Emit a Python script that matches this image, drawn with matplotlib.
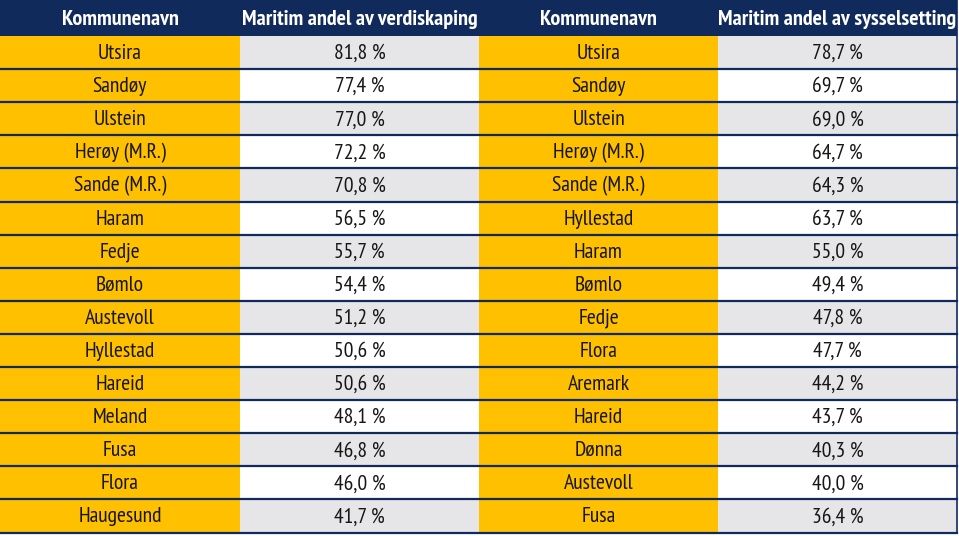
import matplotlib
matplotlib.use('Agg')
import matplotlib.pyplot as plt
from matplotlib.patches import Rectangle

plt.rcParams['font.family'] = ['PT Sans Narrow', 'DejaVu Sans']

# data
headers = ['Kommunenavn', 'Maritim andel av verdiskaping',
           'Kommunenavn', 'Maritim andel av sysselsetting']
kommuner_verdi = ['Utsira', 'Sandøy', 'Ulstein', 'Herøy (M.R.)', 'Sande (M.R.)',
                  'Haram', 'Fedje', 'Bømlo', 'Austevoll', 'Hyllestad',
                  'Hareid', 'Meland', 'Fusa', 'Flora', 'Haugesund']
andel_verdi = [81.8, 77.4, 77.0, 72.2, 70.8, 56.5, 55.7, 54.4, 51.2, 50.6,
               50.6, 48.1, 46.8, 46.0, 41.7]
kommuner_syss = ['Utsira', 'Sandøy', 'Ulstein', 'Herøy (M.R.)', 'Sande (M.R.)',
                 'Hyllestad', 'Haram', 'Bømlo', 'Fedje', 'Flora',
                 'Aremark', 'Hareid', 'Dønna', 'Austevoll', 'Fusa']
andel_syss = [78.7, 69.7, 69.0, 64.7, 64.3, 63.7, 55.0, 49.4, 47.8, 47.7,
              44.2, 43.7, 40.3, 40.0, 36.4]

navy = '#102a5c'
orange = '#ffc000'
grey = '#e6e6e8'

fig = plt.figure(figsize=(9.59, 5.36), dpi=100)
ax = fig.add_axes([0, 0, 1, 1])
ax.set_xlim(0, 959)
ax.set_ylim(536, 0)
ax.axis('off')

col_x = [0, 240, 479, 718, 957]
head_h = 36
row_h = 33.1

def fmt(v):
    return f'{v:.1f}'.replace('.', ',') + ' %'

# header
ax.add_patch(Rectangle((0, 0), 957, head_h, color=navy, lw=0))
for j, h in enumerate(headers):
    ax.text((col_x[j] + col_x[j + 1]) / 2, head_h / 2 + 1.5, h, color='white',
            fontsize=15.8, fontweight='bold', ha='center', va='center')

columns = [kommuner_verdi, [fmt(v) for v in andel_verdi],
           kommuner_syss, [fmt(v) for v in andel_syss]]

for i in range(len(kommuner_verdi)):
    y0 = head_h + i * row_h
    for j in range(4):
        if j % 2 == 0:
            fc = orange
        else:
            fc = grey if i % 2 == 0 else 'white'
        ax.add_patch(Rectangle((col_x[j], y0), col_x[j + 1] - col_x[j], row_h,
                               color=fc, lw=0))
        ax.text((col_x[j] + col_x[j + 1]) / 2, y0 + row_h / 2 + 1, columns[j][i],
                color='#161616', fontsize=15.6, ha='center', va='center')
    ax.plot([0, 957], [y0 + row_h, y0 + row_h], color=navy, lw=1.6)

bottom = head_h + len(kommuner_verdi) * row_h
ax.plot([957, 957], [0, bottom], color=navy, lw=1.2)

fig.savefig('out.png', dpi=100)
